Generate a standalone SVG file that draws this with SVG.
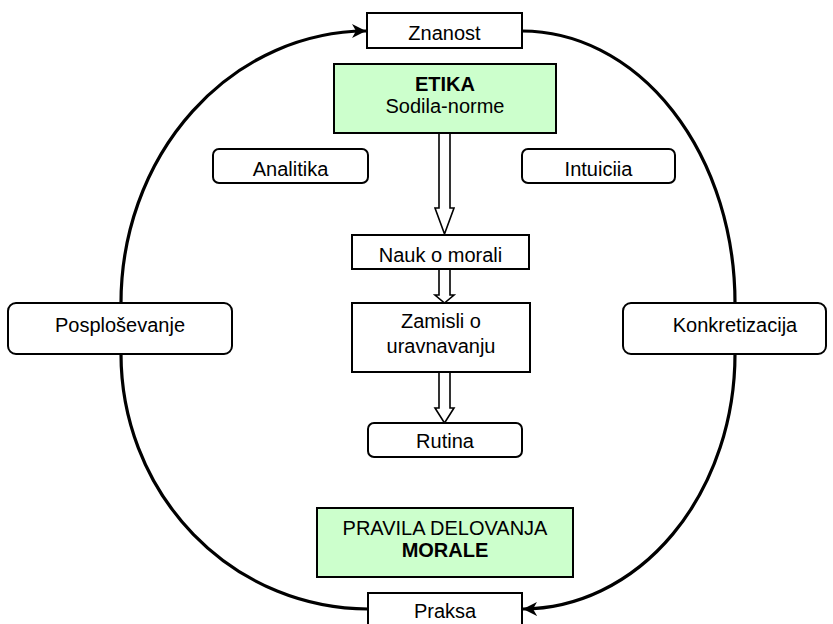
<svg xmlns="http://www.w3.org/2000/svg" width="833" height="624" viewBox="0 0 833 624">
<style>
text{font-family:"Liberation Sans",Arial,sans-serif;font-size:20px;fill:#000;text-anchor:middle}
.b{font-weight:bold}
.box{fill:#fff;stroke:#000;stroke-width:2}
.green{fill:#ccffcc;stroke:#000;stroke-width:2}
.loop{fill:none;stroke:#000;stroke-width:3.2}
.blk{fill:#fff;stroke:#000;stroke-width:1.6;stroke-linejoin:miter}
</style>
<defs>
<marker id="ah" markerUnits="userSpaceOnUse" markerWidth="16" markerHeight="16" refX="14" refY="7" orient="auto" viewBox="0 0 16 14">
<path d="M0,0 L14,7 L0,14 L4,7 Z" fill="#000"/>
</marker>
<clipPath id="cA"><rect x="213" y="149" width="156" height="27"/></clipPath>
<clipPath id="cI"><rect x="522" y="149" width="154" height="27"/></clipPath>
<clipPath id="cR"><rect x="368" y="423" width="155" height="25"/></clipPath>
</defs>
<g id="connectors">
<path class="loop" d="M121,303 A246 272 0 0 1 366,31" marker-end="url(#ah)"/>
<path class="loop" d="M522,31 A213 272 0 0 1 735,303"/>
<path class="loop" d="M735,354 A213 255 0 0 1 523,609" marker-end="url(#ah)"/>
<path class="loop" d="M368,609 A247 255 0 0 1 121,354"/>
<path class="blk" d="M439,133 L450,133 L450,208 L454,208 L444.5,234 L435,208 L439,208 Z"/>
<path class="blk" d="M439,269 L450,269 L450,295 L454,295 L444.5,303 L435,295 L439,295 Z"/>
<path class="blk" d="M439,372 L450,372 L450,408 L454,408 L444.5,423 L435,408 L439,408 Z"/>
</g>
<g id="znanost"><rect class="box" x="367" y="13" width="155" height="35"/><text x="444.5" y="40">Znanost</text></g>
<g id="etika"><rect class="green" x="334" y="64" width="222" height="69"/><text class="b" x="445" y="91">ETIKA</text><text x="445" y="113">Sodila-norme</text></g>
<g id="analitika"><rect class="box" x="213" y="149" width="155" height="34" rx="6"/><text x="290.5" y="176" clip-path="url(#cA)">Analitika</text></g>
<g id="intuicija"><rect class="box" x="522" y="149" width="153" height="34" rx="6"/><text x="598.5" y="176" clip-path="url(#cI)">Intuicija</text></g>
<g id="nauk"><rect class="box" x="352" y="235" width="177" height="34"/><text x="440.5" y="262">Nauk o morali</text></g>
<g id="zamisli"><rect class="box" x="352" y="303" width="178" height="69"/><text x="441" y="328">Zamisli o</text><text x="441" y="353">uravnavanju</text></g>
<g id="rutina"><rect class="box" x="368" y="423" width="154" height="34" rx="6"/><text x="445" y="448" clip-path="url(#cR)">Rutina</text></g>
<g id="posplosevanje"><rect class="box" x="8" y="303" width="224" height="51" rx="8"/><text x="120" y="332">Posploševanje</text></g>
<g id="konkretizacija"><rect class="box" x="623" y="303" width="203" height="51" rx="8"/><text x="735" y="332">Konkretizacija</text></g>
<g id="pravila"><rect class="green" x="317" y="508" width="256" height="69"/><text x="445" y="535">PRAVILA DELOVANJA</text><text class="b" x="445" y="557">MORALE</text></g>
<g id="praksa"><rect class="box" x="368" y="593" width="154" height="36"/><text x="445" y="618">Praksa</text></g>
</svg>
